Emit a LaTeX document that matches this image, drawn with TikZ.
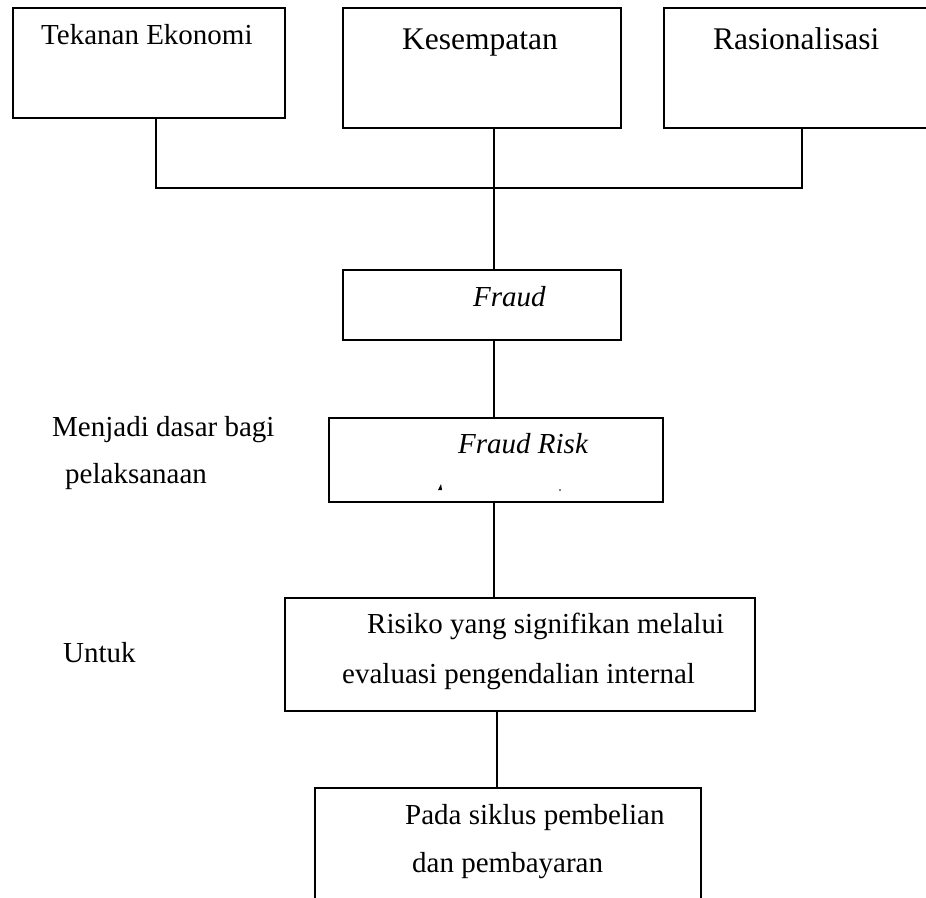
\documentclass[tikz,border=0pt]{standalone}
\usepackage{fontspec}
\setmainfont{Liberation Serif}
\tikzset{
  boxnode/.style={draw, line width=1.8pt, inner sep=0pt, anchor=north west},
  txt/.style={anchor=base west, inner sep=0pt, font=\fontsize{29}{35}\selectfont},
  bigtxt/.style={txt, font=\fontsize{31.5}{38}\selectfont},
  conn/.style={line width=1.8pt}
}
\begin{document}
\begin{tikzpicture}[x=1pt,y=-1pt]
\useasboundingbox (0,0) rectangle (926,897);
\clip (0,0) rectangle (926,897);
% boxes
\node[boxnode, minimum width=272pt, minimum height=110pt] (b1) at (12,7) {};
\node[boxnode, minimum width=278pt, minimum height=120pt] (b2) at (342,7) {};
\node[boxnode, minimum width=300pt, minimum height=120pt] (b3) at (663,7) {};
\node[boxnode, minimum width=278pt, minimum height=70pt] (fraud) at (342,269) {};
\node[boxnode, minimum width=334pt, minimum height=84pt] (risk) at (328,417) {};
\node[boxnode, minimum width=470pt, minimum height=113pt] (risiko) at (284,597) {};
\node[boxnode, minimum width=386pt, minimum height=140pt] (bottom) at (314,787) {};
% texts
\node[txt] (t1) at (41,44) {Tekanan Ekonomi};
\node[bigtxt] (t2) at (402,49) {Kesempatan};
\node[bigtxt] (t3) at (713,49) {Rasionalisasi};
\node[txt] (t4) at (473,306) {\itshape Fraud};
\node[txt] (t5) at (458,453) {\itshape Fraud Risk};
\node[txt] (t6) at (367,633) {Risiko yang signifikan melalui};
\node[txt] (t7) at (342,683) {evaluasi pengendalian internal};
\node[txt] (t8) at (405,824) {Pada siklus pembelian};
\node[txt] (t9) at (412,872) {dan pembayaran};
\node[txt] (l1) at (52,436) {Menjadi dasar bagi};
\node[txt] (l2) at (65,483) {pelaksanaan};
\node[txt] (l3) at (63,662) {Untuk};
% small clipped marks in Fraud Risk box
\fill (438,490) -- (441,484) -- (442,490) -- cycle;
\fill (560,490) circle (0.9pt);
% connectors
\coordinate (j1) at (156,188);
\coordinate (j3) at (802,188);
\coordinate (s) at (494,0);
\coordinate (s2) at (497,0);
\draw[conn] (j1 |- b1.south) -- (j1) -- (j3) -- (j3 |- b3.south);
\draw[conn] (s |- b2.south) -- (s |- fraud.north);
\draw[conn] (s |- fraud.south) -- (s |- risk.north);
\draw[conn] (s |- risk.south) -- (s |- risiko.north);
\draw[conn] (s2 |- risiko.south) -- (s2 |- bottom.north);
\end{tikzpicture}
\end{document}
